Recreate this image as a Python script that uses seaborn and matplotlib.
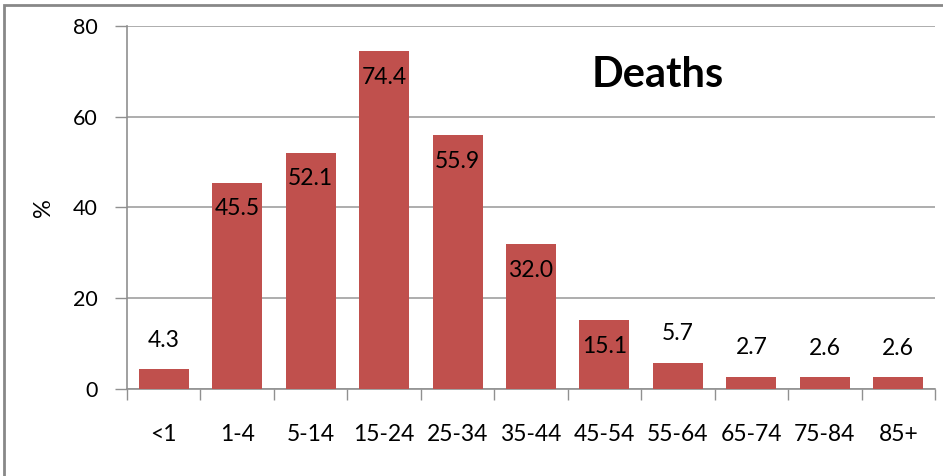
import matplotlib
matplotlib.use("Agg")
import matplotlib.pyplot as plt
import seaborn as sns
import pandas as pd
from matplotlib.patches import Rectangle

age_groups = ["<1", "1-4", "5-14", "15-24", "25-34", "35-44", "45-54", "55-64", "65-74", "75-84", "85+"]
death_pct = [4.3, 45.5, 52.1, 74.4, 55.9, 32.0, 15.1, 5.7, 2.7, 2.6, 2.6]
y_ticks = [0, 20, 40, 60, 80]
title_text = "Deaths"
y_label = "%"

sns.set_theme(style="white")
plt.rcParams["font.family"] = ["Lato", "DejaVu Sans"]

df = pd.DataFrame({"age": age_groups, "pct": death_pct})

fig = plt.figure(figsize=(9.43, 4.76), dpi=100)
ax = fig.add_axes([127/943, 1-389/476, (935-127)/943, (389-26)/476])

sns.barplot(data=df, x="age", y="pct", color="#C0504D", saturation=1,
            width=0.68, ax=ax, zorder=3)
for p in ax.patches:
    p.set_edgecolor("none")

ax.set_ylim(0, 80)
ax.set_xlim(-0.5, len(age_groups) - 0.5)
ax.set_yticks(y_ticks)
ax.set_yticklabels([str(t) for t in y_ticks], fontsize=15.5, color="#000000")
ax.yaxis.grid(True, color="#A0A0A0", linewidth=1.2, zorder=0)
ax.xaxis.grid(False)
ax.set_axisbelow(True)

ax.tick_params(axis="y", which="major", length=9, width=1, color="#909090",
               direction="out", pad=12, left=True)
ax.set_xticks(range(len(age_groups)), labels=age_groups)
ax.tick_params(axis="x", which="major", length=0, pad=25, labelsize=16.5,
               labelcolor="#000000")
# category-boundary ticks on x axis
ax.set_xticks([i - 0.5 for i in range(len(age_groups) + 1)], minor=True)
ax.tick_params(axis="x", which="minor", length=8, width=1, color="#909090",
               direction="out", bottom=True)

for s in ["top", "right"]:
    ax.spines[s].set_visible(False)
for s in ["left", "bottom"]:
    ax.spines[s].set_color("#909090")
    ax.spines[s].set_linewidth(1.2)

ax.set_xlabel("")
ax.set_ylabel(y_label, fontsize=17, labelpad=14, color="#000000")

for i, v in enumerate(death_pct):
    if v >= 10:
        ax.annotate(f"{v:.1f}", (i, v), xytext=(0, -19), textcoords="offset points",
                    ha="center", va="center", fontsize=16.5, color="#000000", zorder=5)
    else:
        ax.annotate(f"{v:.1f}", (i, v), xytext=(0, 21), textcoords="offset points",
                    ha="center", va="center", fontsize=16.5, color="#000000", zorder=5)

ax.text(0.657, 0.865, title_text, transform=ax.transAxes, ha="center", va="center",
        fontsize=30, fontweight="bold", color="#000000")

fig.patches.append(Rectangle((4/943, -0.1), 1.2, 1.1 - 5/476,
                             transform=fig.transFigure, fill=False,
                             edgecolor="#888888", linewidth=2))

fig.savefig("out.png", dpi=100, facecolor="white")
